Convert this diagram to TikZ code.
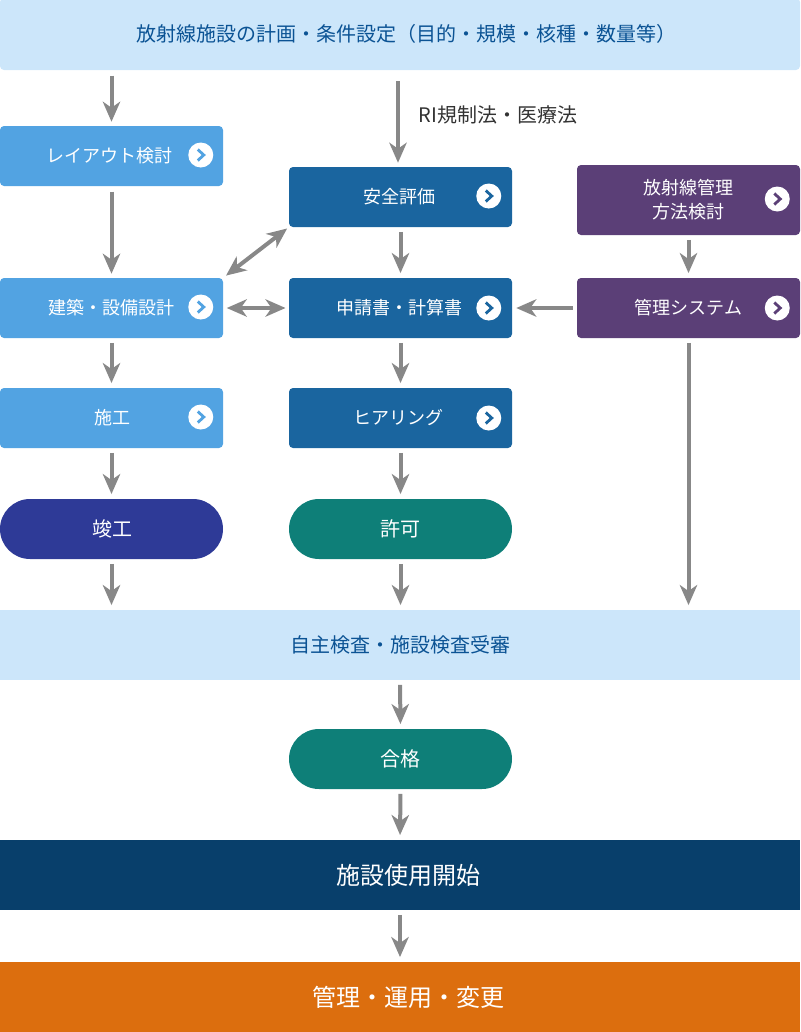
\documentclass[tikz,border=0pt]{standalone}
\usepackage{fontspec}
\setmainfont{Noto Sans CJK JP}
\usetikzlibrary{arrows.meta,calc}

\definecolor{paleband}{HTML}{CCE6FA}
\definecolor{bandtext}{HTML}{0B5394}
\definecolor{planblue}{HTML}{52A3E2}
\definecolor{lawblue}{HTML}{1A659F}
\definecolor{mgmtpurple}{HTML}{5B3F77}
\definecolor{donenavy}{HTML}{2E3A97}
\definecolor{okteal}{HTML}{0E7F78}
\definecolor{startnavy}{HTML}{083F6B}
\definecolor{runorange}{HTML}{DC6E0E}
\definecolor{flowgray}{HTML}{888888}

\tikzset{
  base/.style={rectangle,inner sep=0pt,text=white,align=center,font=\fontsize{13.5}{18}\selectfont},
  box/.style={base,rounded corners=3pt,minimum width=167.25pt,minimum height=45pt},
  pill/.style={box,rounded corners=22.5pt,font=\fontsize{15}{18}\selectfont},
  band/.style={base,minimum width=600pt,minimum height=52.5pt},
  flow/.style={draw=flowgray,line width=3pt,shorten <=3.5pt,shorten >=3.5pt,
    -{Stealth[length=15pt,width=13pt,inset=4.5pt]}},
  flowtop/.style={flow,shorten <=4pt,shorten >=3pt},
  flowboth/.style={flow,shorten <=2.6pt,shorten >=2.4pt,
    {Stealth[length=15pt,width=13pt,inset=4.5pt]}-{Stealth[length=15pt,width=13pt,inset=4.5pt]}},
  dot/.style={circle,fill=white,inner sep=0pt,minimum size=18.75pt}
}

\begin{document}
\begin{tikzpicture}[x=0.75pt,y=-0.75pt]
\useasboundingbox (0,0) rectangle (800,1032);

% bands
\node [band,rounded corners=3pt,minimum height=54pt,fill=paleband,text=bandtext,font=\fontsize{15}{18}\selectfont] (plan) at (400,34) {\hspace*{9pt}放射線施設の計画・条件設定（目的・規模・核種・数量等）};
\node [band,fill=paleband,text=bandtext,font=\fontsize{15}{18}\selectfont] (check) at (400,645) {自主検査・施設検査受審};
\node [band,fill=startnavy,font=\fontsize{18}{18}\selectfont] (start) at (400,875) {\hspace*{12pt}施設使用開始};
\node [band,fill=runorange,font=\fontsize{18}{18}\selectfont] (run) at (400,997) {\hspace*{12pt}管理・運用・変更};

% left column
\node [box,fill=planblue] (layout) at (111.5,156) {\hspace*{-3pt}レイアウト検討};
\node [box,fill=planblue] (design) at (111.5,308) {建築・設備設計};
\node [box,fill=planblue] (build) at (111.5,418) {\hspace*{1.5pt}施工};
\node [pill,fill=donenavy] (done) at (111.5,529) {\hspace*{1.5pt}竣工};

% middle column
\node [box,fill=lawblue] (safety) at (400.5,197) {\hspace*{-1.5pt}安全評価};
\node [box,fill=lawblue] (apply) at (400.5,308) {\hspace*{-1.5pt}申請書・計算書};
\node [box,fill=lawblue] (hearing) at (400.5,418) {\hspace*{-3pt}ヒアリング};
\node [pill,fill=okteal] (permit) at (400.5,529) {許可};
\node [pill,fill=okteal] (pass) at (400.5,759) {合格};

% right column
\node [box,minimum height=52.5pt,fill=mgmtpurple] (method) at (688.5,200) {放射線管理\\方法検討};
\node [box,fill=mgmtpurple] (system) at (688.5,308) {管理システム};

\node [text=black!80,inner sep=0pt,font=\fontsize{15}{18}\selectfont] (law) at (498,115) {RI規制法・医療法};
\coordinate (lawtop) at (398,76);

% round buttons
\foreach \name/\col/\dx/\dy in {layout/planblue/-22.5/-1,design/planblue/-22.5/-1,build/planblue/-22.5/-1,safety/lawblue/-23.5/-1,apply/lawblue/-23.5/0,hearing/lawblue/-23.5/0,method/mgmtpurple/-23/-1,system/mgmtpurple/-23/0} {
  \node [dot] (\name-dot) at ($(\name.east)+(\dx,\dy)$) {};
  \draw [\col,line width=2.1pt] ($(\name-dot)+(-3,-5.5)$) -- ($(\name-dot)+(3,0)$) -- ($(\name-dot)+(-3,5.5)$);
}

% arrows
\draw [flowtop] (plan.south -| layout.north) -- (layout.north);
\draw [flowtop] (lawtop) -- (safety.north -| lawtop);
\draw [flowtop] (layout.south) -- (design.north);
\foreach \from/\to in {design/build,build/done,safety/apply,apply/hearing,hearing/permit,method/system,check/pass,pass/start,start/run}
  \draw [flow] (\from.south) -- (\to.north);
\foreach \from in {done,permit,system}
  \draw [flow] (\from.south) -- (\from.south |- check.north);
\draw [flow,shorten <=3pt,shorten >=3pt] (system.west) -- (apply.east);
\draw [flowboth] (design.east) -- (apply.west);
\draw [flowboth,shorten >=1.5pt] (design.north east) -- (safety.south west);
\end{tikzpicture}
\end{document}
